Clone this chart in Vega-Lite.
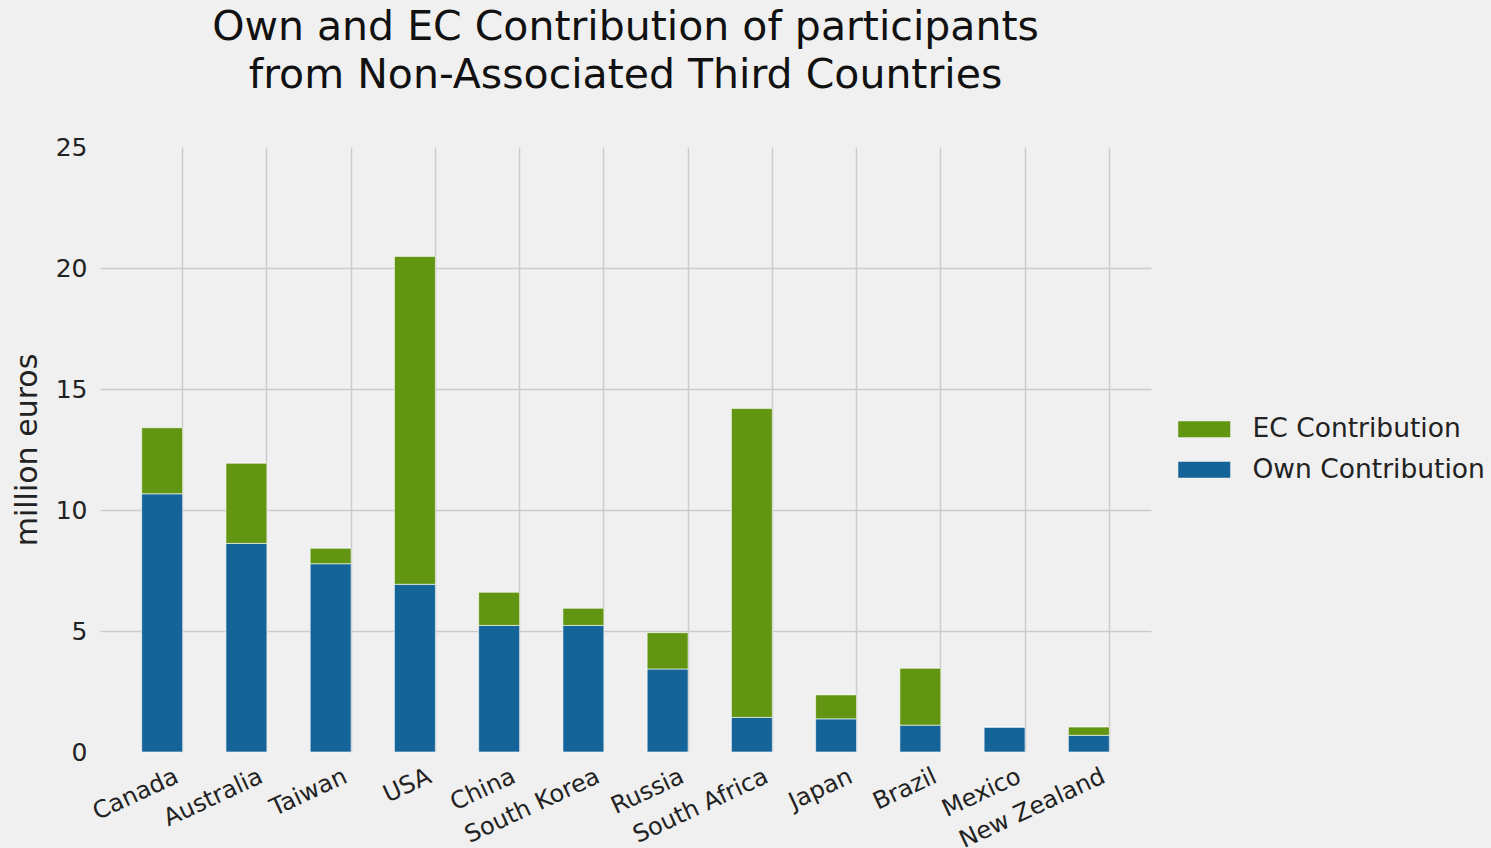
{
  "$schema": "https://vega.github.io/schema/vega-lite/v6.json",
  "width": 1051,
  "height": 605,
  "autosize": {"type": "none"},
  "padding": {"left": 100, "top": 147, "right": 340, "bottom": 96},
  "background": "#f0f0f0",
  "config": {
    "view": {"stroke": null},
    "font": "DejaVu Sans"
  },
  "title": {
    "text": ["Own and EC Contribution of participants", "from Non-Associated Third Countries"],
    "font": "DejaVu Sans",
    "fontSize": 41,
    "fontWeight": "normal",
    "color": "#111111",
    "lineHeight": 48,
    "anchor": "middle",
    "frame": "group",
    "offset": 38
  },
  "data": {
    "values": [
      {"country": "Canada", "type": "Own Contribution", "value": 10.67},
      {"country": "Canada", "type": "EC Contribution", "value": 2.73},
      {"country": "Australia", "type": "Own Contribution", "value": 8.62},
      {"country": "Australia", "type": "EC Contribution", "value": 3.31},
      {"country": "Taiwan", "type": "Own Contribution", "value": 7.78},
      {"country": "Taiwan", "type": "EC Contribution", "value": 0.64},
      {"country": "USA", "type": "Own Contribution", "value": 6.93},
      {"country": "USA", "type": "EC Contribution", "value": 13.55},
      {"country": "China", "type": "Own Contribution", "value": 5.23},
      {"country": "China", "type": "EC Contribution", "value": 1.37},
      {"country": "South Korea", "type": "Own Contribution", "value": 5.23},
      {"country": "South Korea", "type": "EC Contribution", "value": 0.71},
      {"country": "Russia", "type": "Own Contribution", "value": 3.43},
      {"country": "Russia", "type": "EC Contribution", "value": 1.5},
      {"country": "South Africa", "type": "Own Contribution", "value": 1.43},
      {"country": "South Africa", "type": "EC Contribution", "value": 12.76},
      {"country": "Japan", "type": "Own Contribution", "value": 1.37},
      {"country": "Japan", "type": "EC Contribution", "value": 0.99},
      {"country": "Brazil", "type": "Own Contribution", "value": 1.11},
      {"country": "Brazil", "type": "EC Contribution", "value": 2.35},
      {"country": "Mexico", "type": "Own Contribution", "value": 1.03},
      {"country": "Mexico", "type": "EC Contribution", "value": 0},
      {"country": "New Zealand", "type": "Own Contribution", "value": 0.69},
      {"country": "New Zealand", "type": "EC Contribution", "value": 0.34}
    ]
  },
  "mark": {"type": "bar", "stroke": "#ffffff", "strokeWidth": 1, "strokeOpacity": 0.6},
  "encoding": {
    "x": {
      "field": "country",
      "type": "nominal",
      "sort": ["Canada", "Australia", "Taiwan", "USA", "China", "South Korea", "Russia", "South Africa", "Japan", "Brazil", "Mexico", "New Zealand"],
      "scale": {"paddingInner": 0.514, "paddingOuter": 0.495},
      "axis": {
        "title": null,
        "bandPosition": 1,
        "domain": false,
        "ticks": false,
        "grid": true,
        "gridColor": "#cbcbcb",
        "gridWidth": 1.5,
        "labelAngle": -25,
        "labelAlign": "right",
        "labelBaseline": "top",
        "labelPadding": 12,
        "labelOffset": 10,
        "labelFont": "DejaVu Sans",
        "labelFontSize": 24,
        "labelColor": "#222222"
      }
    },
    "y": {
      "field": "value",
      "type": "quantitative",
      "stack": "zero",
      "scale": {"domain": [0, 25], "nice": false},
      "axis": {
        "title": "million euros",
        "titleFont": "DejaVu Sans",
        "titleFontSize": 30,
        "titleFontWeight": "normal",
        "titleColor": "#222222",
        "titlePadding": 13,
        "values": [0, 5, 10, 15, 20, 25],
        "domain": false,
        "ticks": false,
        "grid": true,
        "gridColor": "#cbcbcb",
        "gridWidth": 1.5,
        "gridOpacity": {"condition": {"test": "datum.value == 0 || datum.value == 25", "value": 0}, "value": 1},
        "labelPadding": 13,
        "labelFont": "DejaVu Sans",
        "labelFontSize": 25,
        "labelColor": "#222222"
      }
    },
    "color": {
      "field": "type",
      "type": "nominal",
      "scale": {"domain": ["EC Contribution", "Own Contribution"], "range": ["#629512", "#146399"]},
      "legend": {
        "title": null,
        "orient": "none",
        "legendX": 1091,
        "legendY": 269,
        "padding": 0,
        "symbolType": "M-3.25,-1L3.25,-1L3.25,1L-3.25,1Z",
        "symbolSize": 256,
        "symbolStrokeWidth": 0,
        "symbolOpacity": 1,
        "labelOffset": 35,
        "labelLimit": 0,
        "labelFont": "DejaVu Sans",
        "labelFontSize": 26.5,
        "labelColor": "#222222",
        "rowPadding": 13.5
      }
    },
    "order": {"field": "type", "sort": "descending"}
  }
}
